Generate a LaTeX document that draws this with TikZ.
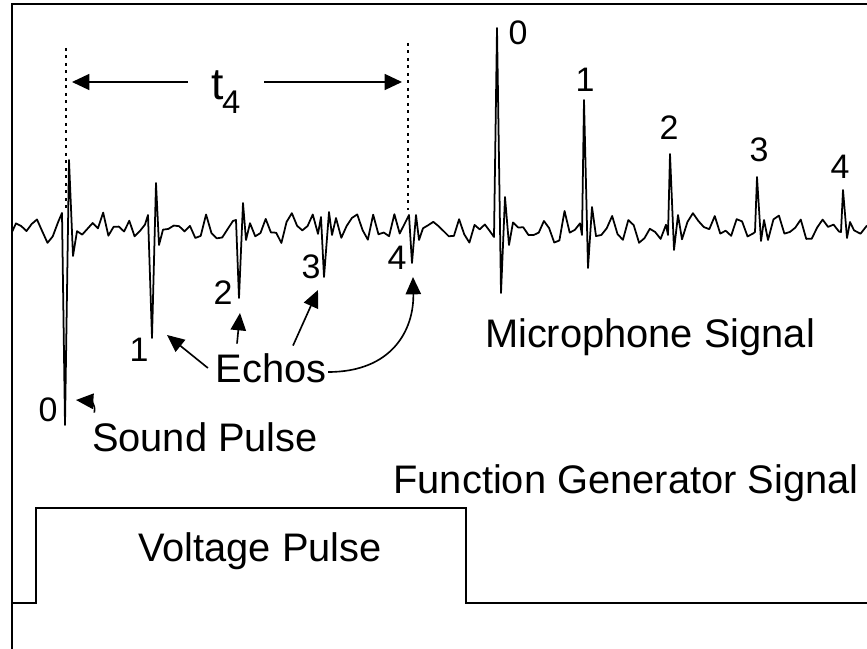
\documentclass[tikz,border=0pt]{standalone}
\usepackage{fontspec}
\setmainfont{Liberation Sans}
\usetikzlibrary{arrows.meta}

\tikzset{
    sig/.style={line width=1.5pt, line join=round},
    lbl/.style={font=\fontsize{34}{40}\selectfont, inner sep=3pt},
    num/.style={font=\fontsize{29}{32}\selectfont, inner sep=0pt},
    pointer/.style={line width=1.4pt, -{Triangle[length=5.2mm, width=4.6mm]}},
    dimline/.style={line width=1.2pt, -{Triangle[length=5.2mm, width=4.8mm]}},
    marker/.style={line width=1.2pt, dash pattern=on 2.2pt off 4.2pt}
}

\begin{document}
\begin{tikzpicture}[x=0.03cm, y=-0.03cm]
    \useasboundingbox (0,0) rectangle (867,649);
    \pgfmathsetseed{11}

    % frame
    \draw[line width=1.5pt] (12,649) -- (12,4) -- (867,4);

    % microphone signal
    \draw[sig] (12,232)
        -- plot[domain=16:58, samples=9] (\x,{229+6*sin(17*mod(\x,360))+10*rand})
        -- (62,213) -- (65,425) -- (69,160) -- (73,256)
        -- plot[domain=77:145, samples=14] (\x,{228+6*sin(17*mod(\x,360))+13*rand})
        -- (148,215) -- (152,338) -- (156,183) -- (159,245)
        -- plot[domain=163:233, samples=14] (\x,{229+6*sin(17*mod(\x,360))+12*rand})
        -- (236,220) -- (239,298) -- (243,203) -- (246,240)
        -- plot[domain=250:318, samples=14] (\x,{229+6*sin(17*mod(\x,360))+11*rand})
        -- (321,217) -- (324,277) -- (329,212) -- (332,235)
        -- plot[domain=336:405, samples=14] (\x,{229+6*sin(17*mod(\x,360))+11*rand})
        -- (409,215) -- (412,263) -- (416,215) -- (419,240)
        -- plot[domain=423:490, samples=14] (\x,{229+6*sin(17*mod(\x,360))+10*rand})
        -- (494,237) -- (497,28) -- (501,293) -- (505,197) -- (509,245)
        -- plot[domain=513:580, samples=14] (\x,{228+6*sin(17*mod(\x,360))+12*rand})
        -- (582,235) -- (584,100) -- (588,268) -- (592,207)
        -- plot[domain=596:666, samples=14] (\x,{228+6*sin(17*mod(\x,360))+10*rand})
        -- (668,235) -- (670,154) -- (674,250) -- (678,215)
        -- plot[domain=682:753, samples=14] (\x,{228+6*sin(17*mod(\x,360))+9*rand})
        -- (755,232) -- (757,177) -- (761,241) -- (764,220)
        -- plot[domain=768:839, samples=14] (\x,{228+6*sin(17*mod(\x,360))+9*rand})
        -- (841,232) -- (843,190) -- (847,238) -- (850,222)
        -- plot[domain=854:867, samples=3] (\x,{228+6*rand});

    % spike numbers
    \node[num] (n0) at (48,410) {0};
    \node[num] (n1) at (139,350) {1};
    \node[num] (n2) at (223,293) {2};
    \node[num] (n3) at (311,267) {3};
    \node[num] (n4) at (397,258) {4};
    \node[num] (m0) at (518,33) {0};
    \node[num] (m1) at (585,80) {1};
    \node[num] (m2) at (669,128) {2};
    \node[num] (m3) at (759,150) {3};
    \node[num] (m4) at (840,167) {4};

    % t4 marker
    \coordinate (lmtop) at (66,48);
    \coordinate (lmbot) at (66,210);
    \coordinate (rmtop) at (408,43);
    \coordinate (rmbot) at (408,210);
    \draw[marker] (lmtop) -- (lmbot);
    \draw[marker] (rmtop) -- (rmbot);
    \coordinate (ltip) at (72,82);
    \coordinate (rtip) at (402,82);
    \node[minimum width=2.28cm, inner sep=0pt, anchor=base] (t4) at (226,100)
        {\fontsize{38}{40}\selectfont t\kern-0.04em\raisebox{-0.3em}{\fontsize{28}{30}\selectfont 4}};
    \draw[dimline] (t4.west |- ltip) -- (ltip);
    \draw[dimline] (t4.east |- rtip) -- (rtip);

    % texts
    \node[lbl] (mic) at (650,337) {Microphone Signal};
    \node[lbl] (fgen) at (626,483) {Function Generator Signal};
    \node[lbl] (sound) at (205,437) {Sound Pulse};
    \node[lbl] (echos) at (271,368) {Echos};
    \node[lbl] (volt) at (260,551) {Voltage Pulse};

    % pointers
    \coordinate (p0tip) at (76,400);
    \coordinate (e1tip) at (167,335);
    \coordinate (e2tip) at (240,313);
    \coordinate (e3tip) at (318,290);
    \coordinate (e4tip) at (413,277);
    \draw[pointer] ([shift={(6,-6)}]sound.north west) .. controls (96,404) and (90,401) .. (p0tip);
    \draw[pointer] ([shift={(-4,0)}]echos.west) -- (e1tip);
    \draw[pointer] ([shift={(-34,-6)}]echos.north) -- (e2tip);
    \draw[pointer] ([shift={(22,-4)}]echos.north) -- (e3tip);
    \draw[pointer] ([shift={(-2,4)}]echos.east) .. controls (392,372) and (414,330) .. (e4tip);

    % voltage pulse
    \draw[line width=1.3pt] (12,603) -- (36,603) -- (36,508) -- (466,508) -- (466,603) -- (867,603);
\end{tikzpicture}
\end{document}
